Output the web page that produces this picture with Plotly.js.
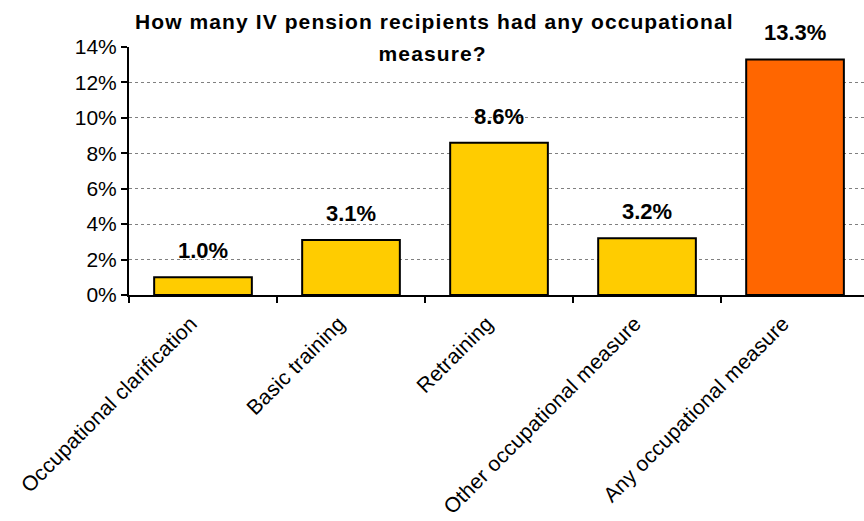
<!DOCTYPE html>
<html><head><meta charset="utf-8">
<script src="https://cdn.plot.ly/plotly-3.0.1.min.js"></script>
<style>html,body{margin:0;padding:0;background:#fff}#chart{width:864px;height:521px}
.annotation[data-index="5"] text, .annotation[data-index="6"] text {letter-spacing: 1.1px;}
.xtick text {letter-spacing: 0.2px;}
</style>
</head><body><div id="chart"></div>
<script>
const categories = ["Occupational clarification","Basic training","Retraining","Other occupational measure","Any occupational measure"];
const values = [1.0, 3.1, 8.6, 3.2, 13.3];
const barColors = ["#FFCC00","#FFCC00","#FFCC00","#FFCC00","#FF6600"];
const yTickVals = [0,2,4,6,8,10,12,14];
const yTickText = yTickVals.map(v => v + "%");
const labels = values.map(v => v.toFixed(1) + "%");
const titleLines = ["How many IV pension recipients had any occupational", "measure?"];

const FONT = "Liberation Sans, Arial, sans-serif";
const trace = {
  type: "bar", x: categories, y: values,
  marker: {color: barColors, line: {color: "#000", width: 2}},
  width: 0.66, hoverinfo: "none"
};
const labelAnns = categories.map((c, i) => ({
  x: c, y: values[i], xref: "x", yref: "y", text: "<b>" + labels[i] + "</b>",
  showarrow: false, xanchor: "center", yanchor: "bottom", yshift: 12,
  font: {size: 22, family: FONT, color: "#000"}
}));
const titleAnns = [
  {text: "<b>" + titleLines[0] + "</b>", x: 434, y: 21},
  {text: "<b>" + titleLines[1] + "</b>", x: 432, y: 54}
].map(a => ({
  text: a.text, xref: "paper", yref: "paper",
  x: (a.x - 129) / 735, y: 1 + (47 - a.y) / 248,
  xanchor: "center", yanchor: "middle", showarrow: false,
  font: {size: 21, family: FONT, color: "#000"}
}));
const layout = {
  width: 864, height: 521,
  margin: {l: 129, r: 0, t: 47, b: 226},
  paper_bgcolor: "#fff", plot_bgcolor: "#fff",
  showlegend: false,
  font: {family: FONT, color: "#000"},
  xaxis: {
    range: [-0.5, 4.466], tickangle: -45, ticks: "outside", tickson: "boundaries",
    ticklen: 6, tickwidth: 2, tickcolor: "#000",
    showline: true, linecolor: "#000", linewidth: 2,
    ticklabelstandoff: 6, ticklabelshift: -12,
    tickfont: {size: 21}, showgrid: false, fixedrange: true
  },
  yaxis: {
    range: [0, 14], tickvals: yTickVals, ticktext: yTickText,
    ticks: "outside", ticklen: 6, tickwidth: 2, tickcolor: "#000",
    showline: true, linecolor: "#000", linewidth: 2,
    showgrid: true, gridcolor: "#808080", gridwidth: 1, griddash: "dot",
    tickfont: {size: 21}, zeroline: false, fixedrange: true
  },
  annotations: labelAnns.concat(titleAnns)
};
Plotly.newPlot("chart", [trace], layout, {staticPlot: true});
</script></body></html>
